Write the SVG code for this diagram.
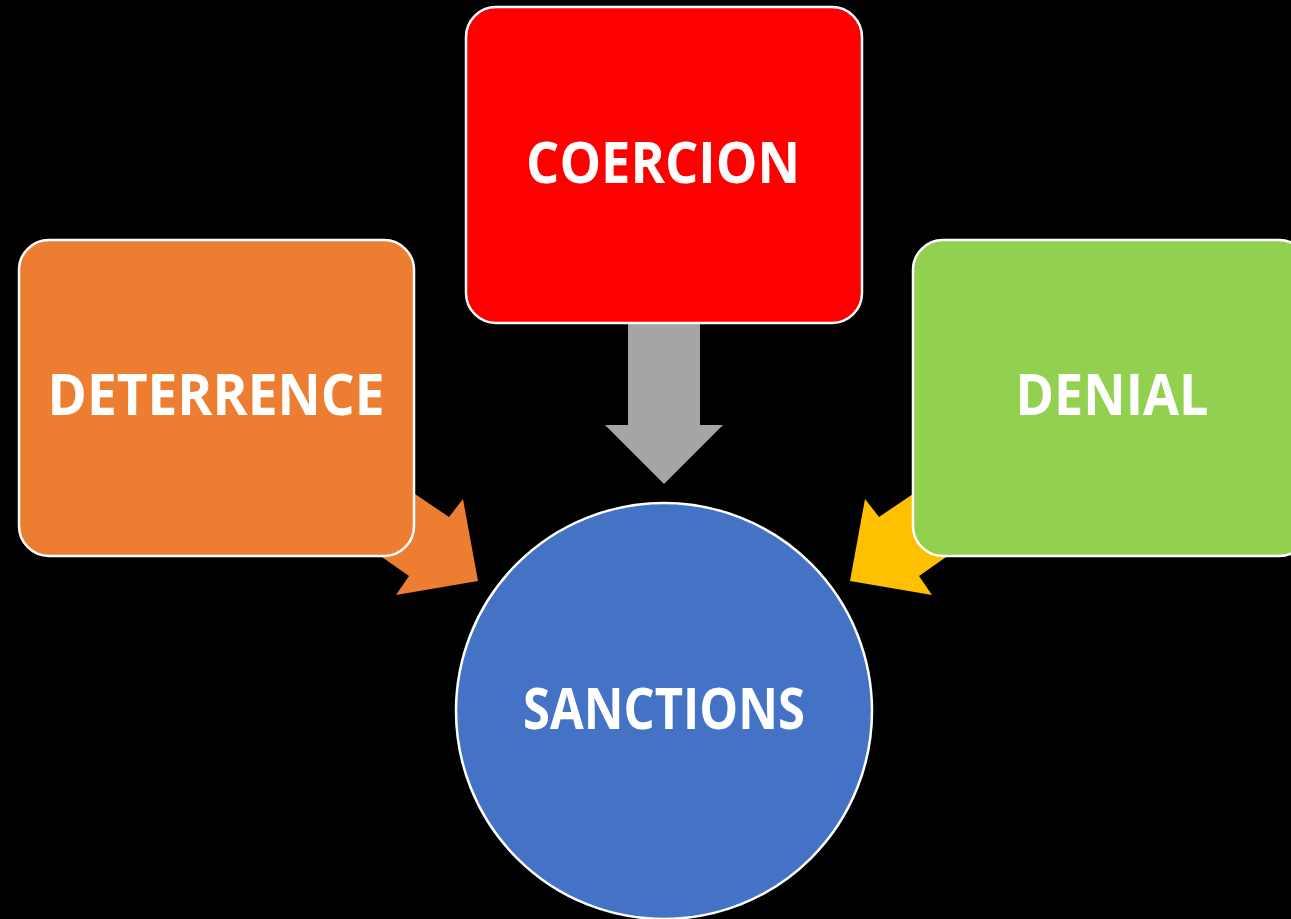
<svg xmlns="http://www.w3.org/2000/svg" width="1291" height="919" viewBox="0 0 1291 919">
<style>
.box{stroke:#fff;stroke-width:2.5}
.lbl{font-family:"Open Sans","Noto Sans",sans-serif;font-weight:bold;font-size:57px;fill:#fff;text-anchor:middle}
</style>
<rect width="1291" height="919" fill="#000"/>
<g id="connectors">
<polygon points="381,471 449,517 463,499 478,581 396,595 409,576 349,534" fill="#ED7D31"/>
<polygon points="947,471 879,517 865,499 850,581 932,595 919,576 979,534" fill="#FFC000"/>
<polygon points="628,318 700,318 700,425 723,425 664,484 605,425 628,425" fill="#A5A5A5"/>
</g>
<g id="coercion">
<rect class="box" x="466" y="7" width="396" height="316" rx="30" fill="#FF0000"/>
<text class="lbl" x="663" y="183" textLength="274" lengthAdjust="spacingAndGlyphs">COERCION</text>
</g>
<g id="deterrence">
<rect class="box" x="19" y="240" width="395" height="316" rx="30" fill="#ED7D31"/>
<text class="lbl" x="216" y="415" textLength="337" lengthAdjust="spacingAndGlyphs">DETERRENCE</text>
</g>
<g id="denial">
<rect class="box" x="913" y="240" width="396" height="316" rx="30" fill="#92D050"/>
<text class="lbl" x="1112" y="415" textLength="193" lengthAdjust="spacingAndGlyphs">DENIAL</text>
</g>
<g id="sanctions">
<circle class="box" cx="664" cy="711" r="208" fill="#4472C4"/>
<text class="lbl" x="664" y="729" textLength="282" lengthAdjust="spacingAndGlyphs">SANCTIONS</text>
</g>
</svg>
